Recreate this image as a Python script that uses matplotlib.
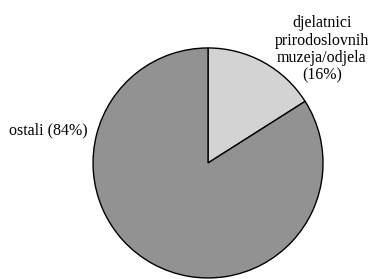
import matplotlib.pyplot as plt

labels = ['djelatnici\nprirodoslovnih\nmuzeja/odjela\n(16%)', 'ostali (84%)']
values = [16, 84]
colors = ['#d3d3d3', '#929292']

fig = plt.figure(figsize=(3.75, 2.79), dpi=100)
ax = fig.add_axes([0, 0, 1, 1])

ax.pie(values, colors=colors, startangle=90, counterclock=False,
       wedgeprops={'edgecolor': 'black', 'linewidth': 1.0})

# labels placed by hand around the pie
ax.text(0.99, 0.99, labels[0], ha='center', va='center', fontsize=11.5,
        family='Liberation Serif', linespacing=1.1)
ax.text(-1.39, 0.28, labels[1], ha='center', va='center', fontsize=11.5,
        family='Liberation Serif')

ax.set_xlim(-1.809, 1.452)
ax.set_ylim(-1.009, 1.417)
ax.set_aspect('equal')
ax.axis('off')

plt.savefig('out.png', dpi=100)
